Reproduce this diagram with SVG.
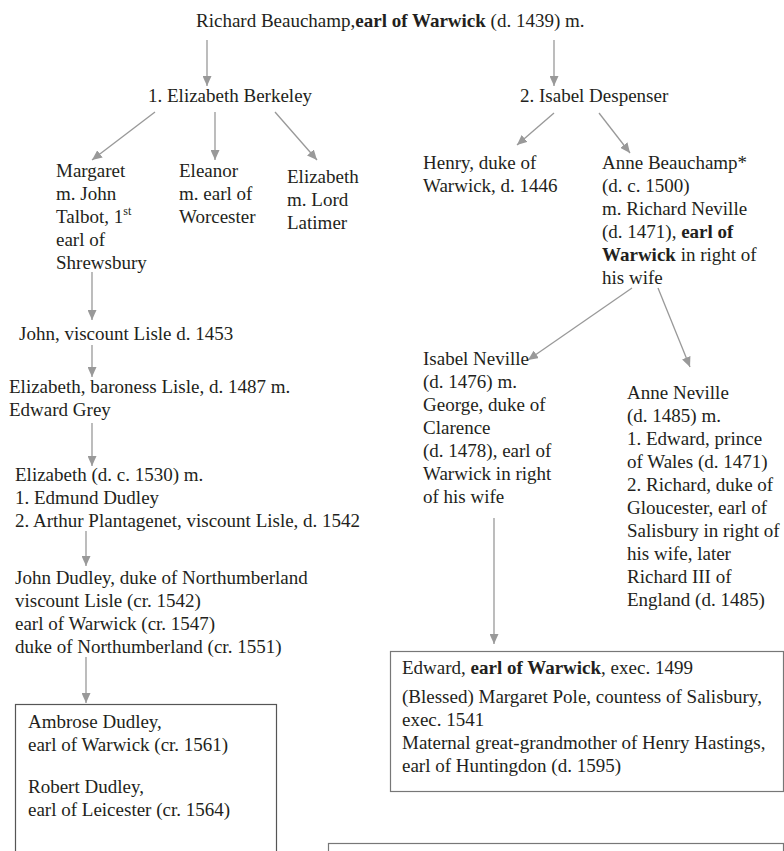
<svg xmlns="http://www.w3.org/2000/svg" width="784" height="851" viewBox="0 0 784 851">
<style>
text{font-family:"Liberation Serif","Times New Roman",serif;font-size:19px;fill:#231f20}
.b{font-weight:bold}
.c line{stroke:#999;stroke-width:1.3;marker-end:url(#ah)}
.box{fill:none;stroke:#555;stroke-width:1.2}
</style>
<defs>
<marker id="ah" markerUnits="userSpaceOnUse" markerWidth="10" markerHeight="9" viewBox="0 0 10 9" refX="10" refY="4.5" orient="auto">
<path d="M0,0 L10,4.5 L0,9 z" fill="#999"/>
</marker>
</defs>
<rect width="784" height="851" fill="#fff"/>
<g class="c" id="connectors">
<line x1="207" y1="40" x2="207" y2="86"/>
<line x1="554" y1="40" x2="554" y2="86"/>
<line x1="155" y1="112" x2="92" y2="160"/>
<line x1="215" y1="112" x2="215" y2="160"/>
<line x1="275" y1="112" x2="317" y2="160"/>
<line x1="92" y1="272" x2="92" y2="320"/>
<line x1="92" y1="345" x2="92" y2="377"/>
<line x1="92" y1="423" x2="92" y2="466"/>
<line x1="86" y1="531" x2="86" y2="566"/>
<line x1="86" y1="657" x2="86" y2="703"/>
<line x1="554" y1="113" x2="517" y2="145"/>
<line x1="599" y1="113" x2="630" y2="153"/>
<line x1="632" y1="288" x2="528" y2="360"/>
<line x1="658" y1="288" x2="690" y2="367"/>
<line x1="494" y1="518" x2="494" y2="644"/>
</g>
<g id="n-richard"><text x="196" y="27">Richard Beauchamp,<tspan class="b">earl of Warwick</tspan> (d. 1439) m.</text></g>
<g id="n-elizabeth-berkeley"><text x="148" y="102">1. Elizabeth Berkeley</text></g>
<g id="n-isabel-despenser"><text x="520" y="102">2. Isabel Despenser</text></g>
<g id="n-margaret"><text x="56" y="177">Margaret<tspan x="56" y="200">m. John</tspan><tspan x="56" y="223">Talbot, 1</tspan><tspan font-size="12" dy="-8">st</tspan><tspan x="56" y="246">earl of</tspan><tspan x="56" y="269">Shrewsbury</tspan></text></g>
<g id="n-eleanor"><text x="179" y="177">Eleanor<tspan x="179" y="200">m. earl of</tspan><tspan x="179" y="223">Worcester</tspan></text></g>
<g id="n-elizabeth-latimer"><text x="287" y="183">Elizabeth<tspan x="287" y="206">m. Lord</tspan><tspan x="287" y="229">Latimer</tspan></text></g>
<g id="n-john-lisle"><text x="19" y="340">John, viscount Lisle d. 1453</text></g>
<g id="n-elizabeth-baroness"><text x="9" y="393">Elizabeth, baroness Lisle, d. 1487 m.<tspan x="9" y="416">Edward Grey</tspan></text></g>
<g id="n-elizabeth-1530"><text x="15" y="481">Elizabeth (d. c. 1530) m.<tspan x="15" y="504">1. Edmund Dudley</tspan><tspan x="15" y="527">2. Arthur Plantagenet, viscount Lisle, d. 1542</tspan></text></g>
<g id="n-john-dudley"><text x="15" y="584">John Dudley, duke of Northumberland<tspan x="15" y="607">viscount Lisle (cr. 1542)</tspan><tspan x="15" y="630">earl of Warwick (cr. 1547)</tspan><tspan x="15" y="653">duke of Northumberland (cr. 1551)</tspan></text></g>
<g id="n-ambrose-robert"><rect class="box" x="15.5" y="704.5" width="261" height="170"/><text x="28" y="728">Ambrose Dudley,<tspan x="28" y="751">earl of Warwick (cr. 1561)</tspan><tspan x="28" y="793">Robert Dudley,</tspan><tspan x="28" y="816">earl of Leicester (cr. 1564)</tspan></text></g>
<g id="n-henry"><text x="423" y="169">Henry, duke of<tspan x="423" y="192">Warwick, d. 1446</tspan></text></g>
<g id="n-anne-beauchamp"><text x="602" y="169">Anne Beauchamp*<tspan x="602" y="192">(d. c. 1500)</tspan><tspan x="602" y="215">m. Richard Neville</tspan><tspan x="602" y="238">(d. 1471), <tspan class="b">earl of</tspan></tspan><tspan x="602" y="261"><tspan class="b">Warwick</tspan> in right of</tspan><tspan x="602" y="284">his wife</tspan></text></g>
<g id="n-isabel-neville"><text x="423" y="365">Isabel Neville<tspan x="423" y="388">(d. 1476) m.</tspan><tspan x="423" y="411">George, duke of</tspan><tspan x="423" y="434">Clarence</tspan><tspan x="423" y="457">(d. 1478), earl of</tspan><tspan x="423" y="480">Warwick in right</tspan><tspan x="423" y="503">of his wife</tspan></text></g>
<g id="n-anne-neville"><text x="627" y="399">Anne Neville<tspan x="627" y="422">(d. 1485) m.</tspan><tspan x="627" y="445">1. Edward, prince</tspan><tspan x="627" y="468">of Wales (d. 1471)</tspan><tspan x="627" y="491">2. Richard, duke of</tspan><tspan x="627" y="514">Gloucester, earl of</tspan><tspan x="627" y="537">Salisbury in right of</tspan><tspan x="627" y="560">his wife, later</tspan><tspan x="627" y="583">Richard III of</tspan><tspan x="627" y="606">England (d. 1485)</tspan></text></g>
<g id="n-edward-margaret"><rect class="box" x="390.5" y="651.5" width="393" height="140" style="stroke:#777"/><text x="402" y="674">Edward, <tspan class="b">earl of Warwick</tspan>, exec. 1499<tspan x="402" y="703">(Blessed) Margaret Pole, countess of Salisbury,</tspan><tspan x="402" y="726">exec. 1541</tspan><tspan x="402" y="749">Maternal great-grandmother of Henry Hastings,</tspan><tspan x="402" y="772">earl of Huntingdon (d. 1595)</tspan></text></g>
<g id="n-bottom"><rect class="box" x="328.5" y="843.5" width="455" height="30" style="stroke:#777"/></g>
</svg>
